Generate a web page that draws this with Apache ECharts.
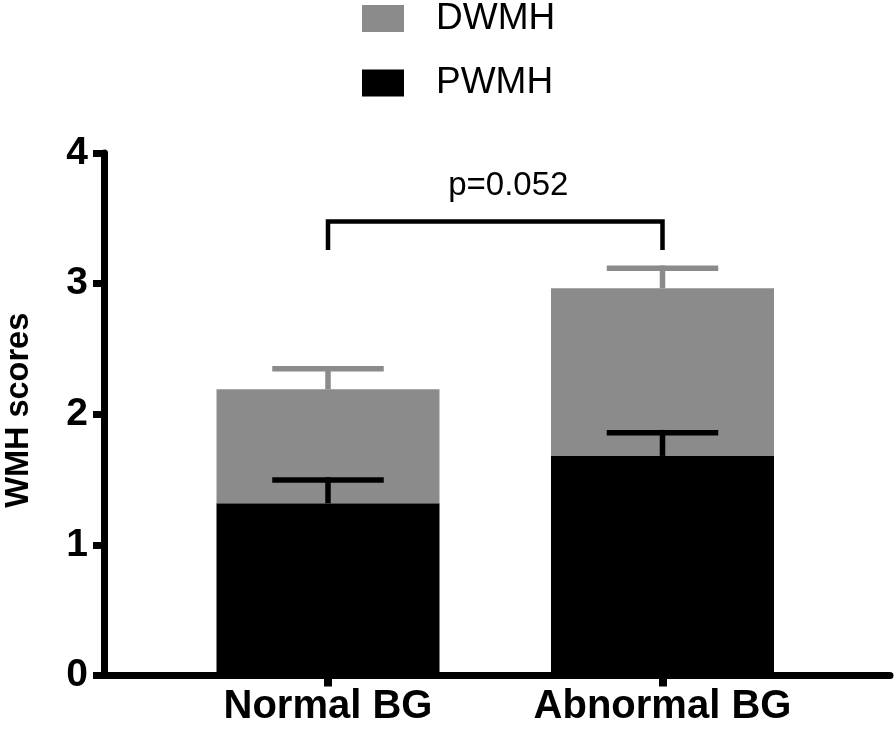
<!DOCTYPE html>
<html>
<head>
<meta charset="utf-8">
<script src="https://cdn.jsdelivr.net/npm/echarts@6/dist/echarts.min.js"></script>
<style>
html,body{margin:0;padding:0;background:#fff;}
#chart{width:894px;height:732px;}
</style>
</head>
<body>
<div id="chart"></div>
<script>
// ---- data ----
const categories = ['Normal BG', 'Abnormal BG'];
const pwmh = [1.318, 1.681];
const dwmh = [0.873, 1.284];
const pwmhErr = [0.179, 0.178];
const dwmhErr = [0.157, 0.153];
const yTicks = [0, 1, 2, 3, 4];
const bracket = { from: 0, to: 1, legY: 3.257, topY: 3.476, textY: 3.748, text: 'p=0.052' };

// ---- styles ----
const FONT = 'Liberation Sans, Arial, Helvetica, sans-serif';
const GRAY = '#8b8b8b';
const BLACK = '#000000';
const BAR_W = 223;
const CAP_W = BAR_W / 2;
const ERR_LW = 5.5;

const chart = echarts.init(document.getElementById('chart'), null, { renderer: 'canvas' });

const pwmhTop = pwmh.map((v, i) => [i, v, v + pwmhErr[i]]);
const dwmhTop = dwmh.map((v, i) => [i, pwmh[i] + v, pwmh[i] + v + dwmhErr[i]]);

function errRender(color) {
  return function (params, api) {
    const x = api.value(0), y0 = api.value(1), y1 = api.value(2);
    const p0 = api.coord([x, y0]);
    const p1 = api.coord([x, y1]);
    return {
      type: 'group',
      children: [
        { type: 'line', shape: { x1: p0[0], y1: p0[1], x2: p1[0], y2: p1[1] - ERR_LW / 2 },
          style: { stroke: color, lineWidth: ERR_LW } },
        { type: 'line', shape: { x1: p1[0] - CAP_W / 2, y1: p1[1], x2: p1[0] + CAP_W / 2, y2: p1[1] },
          style: { stroke: color, lineWidth: ERR_LW } }
      ]
    };
  };
}

const option = {
  animation: false,
  backgroundColor: '#fff',
  legend: {
    data: ['DWMH', 'PWMH'],
    orient: 'vertical',
    left: 362,
    top: 0,
    padding: 0,
    icon: 'rect',
    itemWidth: 42,
    itemHeight: 27,
    itemGap: 27.5,
    selectedMode: false,
    textStyle: { fontSize: 37, fontFamily: FONT, color: BLACK, lineHeight: 27, padding: [0, 0, 0, 27] }
  },
  grid: [
    { left: 104, right: 4, top: 153, bottom: 56.5, containLabel: false, outerBoundsMode: 'none' },
    { left: 160.75, right: 64.25, top: 153, bottom: 56.5, containLabel: false, outerBoundsMode: 'none' }
  ],
  xAxis: [
    { gridIndex: 0, type: 'value', min: 0, max: 1,
      axisLine: { show: true, lineStyle: { color: BLACK, width: 7 } },
      axisTick: { show: false }, axisLabel: { show: false }, splitLine: { show: false } },
    { gridIndex: 1, type: 'category', data: categories,
      axisLine: { show: false },
      axisTick: { show: true, alignWithLabel: true, length: 11, lineStyle: { color: BLACK, width: 8 } },
      axisLabel: { interval: 0, fontSize: 40, fontWeight: 'bold', fontFamily: FONT, color: BLACK, margin: 11 },
      splitLine: { show: false } }
  ],
  yAxis: [
    { gridIndex: 0, type: 'value', min: yTicks[0], max: yTicks[yTicks.length - 1], interval: 1,
      name: 'WMH scores', nameLocation: 'middle', nameGap: 68,
      nameTextStyle: { fontSize: 32.5, fontWeight: 'bold', fontFamily: FONT, color: BLACK, padding: [0, 0, 0, 8] },
      axisLine: { show: true, lineStyle: { color: BLACK, width: 7 } },
      axisTick: { show: true, length: 11, lineStyle: { color: BLACK, width: 7 } },
      axisLabel: { fontSize: 39, fontWeight: 'bold', fontFamily: FONT, color: BLACK, margin: 16 },
      splitLine: { show: false } },
    { gridIndex: 1, type: 'value', min: yTicks[0], max: yTicks[yTicks.length - 1], show: false }
  ],
  series: [
    { name: 'PWMH', type: 'bar', xAxisIndex: 1, yAxisIndex: 1, stack: 'wmh', data: pwmh,
      barWidth: BAR_W, itemStyle: { color: BLACK }, z: 2 },
    { name: 'DWMH', type: 'bar', xAxisIndex: 1, yAxisIndex: 1, stack: 'wmh', data: dwmh,
      barWidth: BAR_W, itemStyle: { color: GRAY }, z: 2 },
    { name: 'DWMH SEM', type: 'custom', xAxisIndex: 1, yAxisIndex: 1, data: dwmhTop,
      renderItem: errRender(GRAY), z: 3, silent: true },
    { name: 'PWMH SEM', type: 'custom', xAxisIndex: 1, yAxisIndex: 1, data: pwmhTop,
      renderItem: errRender(BLACK), z: 3, silent: true },
    { name: 'bracket', type: 'custom', xAxisIndex: 1, yAxisIndex: 1,
      data: [[bracket.from, bracket.to, bracket.legY, bracket.topY, bracket.textY]],
      silent: true, z: 3,
      renderItem: function (params, api) {
        const a = api.value(0), b = api.value(1);
        const pl = api.coord([a, api.value(2)]);
        const pt = api.coord([a, api.value(3)]);
        const pr = api.coord([b, api.value(2)]);
        const ptr = api.coord([b, api.value(3)]);
        const txt = api.coord([a, api.value(4)]);
        const midX = (pl[0] + pr[0]) / 2 + 13;
        return {
          type: 'group',
          children: [
            { type: 'polyline', shape: { points: [pl, pt, ptr, pr] },
              style: { stroke: BLACK, lineWidth: 4.5, fill: null, lineJoin: 'miter' } },
            { type: 'text', x: midX, y: txt[1],
              style: { text: bracket.text, fontSize: 33, fontFamily: FONT, fill: BLACK,
                       align: 'center', verticalAlign: 'middle' } }
          ]
        };
      } }
  ]
};
chart.setOption(option);
</script>
</body>
</html>
